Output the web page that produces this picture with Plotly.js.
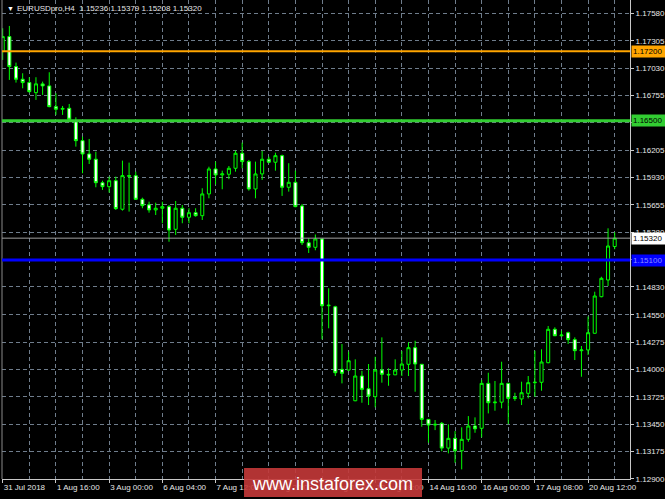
<!DOCTYPE html>
<html>
<head>
<meta charset="utf-8">
<script src="https://cdn.plot.ly/plotly-3.0.1.min.js"></script>
<style>
  html, body { margin: 0; padding: 0; background: #000; }
  #chart { width: 665px; height: 499px; }
</style>
</head>
<body>
<div id="chart"></div>
<script>
// EURUSDpro, H4 bars from 31 Jul 2018 08:00 to 21 Aug 2018 04:00
const symbol = 'EURUSDpro,H4';

const open = [
  1.17197, 1.17348, 1.17046, 1.16919, 1.16885, 1.16784, 1.16872, 1.16852, 1.16643, 1.16617,
  1.16627, 1.16492, 1.16301, 1.16167, 1.16114, 1.15878, 1.15838, 1.15898, 1.15611, 1.15949,
  1.15949, 1.15711, 1.15655, 1.15604, 1.15621, 1.15637, 1.15409, 1.15621, 1.15530, 1.15576,
  1.15546, 1.15765, 1.16016, 1.15956, 1.15963, 1.16023, 1.16174, 1.16090, 1.15815, 1.15966,
  1.16114, 1.16084, 1.16150, 1.15832, 1.15882, 1.15644, 1.15274, 1.15228, 1.15312, 1.14640,
  1.14630, 1.14000, 1.13993, 1.13684, 1.13933, 1.13805, 1.13725, 1.13993, 1.13950, 1.13945,
  1.13993, 1.14051, 1.14218, 1.14051, 1.13497, 1.13440, 1.13457, 1.13208, 1.13306, 1.13181,
  1.13296, 1.13430, 1.13407, 1.13859, 1.13664, 1.13670, 1.13859, 1.13708, 1.13702, 1.13759,
  1.13866, 1.13870, 1.14067, 1.14403, 1.14338, 1.14369, 1.14299, 1.14188, 1.14195, 1.14363,
  1.14731, 1.14899, 1.15236
];

const high = [
  1.17432, 1.17455, 1.17086, 1.16979, 1.16939, 1.16939, 1.16895, 1.16989, 1.16778, 1.16650,
  1.16670, 1.16536, 1.16341, 1.16318, 1.16190, 1.15898, 1.15939, 1.15939, 1.16100, 1.16080,
  1.15989, 1.15727, 1.15687, 1.15677, 1.15687, 1.15654, 1.15694, 1.15654, 1.15621, 1.15621,
  1.15822, 1.16039, 1.16090, 1.15999, 1.16046, 1.16200, 1.16281, 1.16107, 1.16090, 1.16197,
  1.16140, 1.16180, 1.16160, 1.16074, 1.15999, 1.15664, 1.15319, 1.15357, 1.15319, 1.14816,
  1.14640, 1.14255, 1.14177, 1.14101, 1.13986, 1.14054, 1.14127, 1.14322, 1.14010, 1.14101,
  1.14185, 1.14272, 1.14288, 1.14051, 1.13500, 1.13490, 1.13470, 1.13447, 1.13379, 1.13417,
  1.13530, 1.13517, 1.13893, 1.13966, 1.13883, 1.14077, 1.13865, 1.13765, 1.13876, 1.13933,
  1.14188, 1.14202, 1.14436, 1.14423, 1.14389, 1.14379, 1.14322, 1.14235, 1.14532, 1.14781,
  1.14932, 1.15419, 1.15379
];

const low = [
  1.17113, 1.16912, 1.16885, 1.16828, 1.16784, 1.16711, 1.16761, 1.16637, 1.16560, 1.16560,
  1.16509, 1.16241, 1.15973, 1.16066, 1.15832, 1.15805, 1.15778, 1.15604, 1.15597, 1.15587,
  1.15704, 1.15621, 1.15576, 1.15553, 1.15470, 1.15284, 1.15352, 1.15470, 1.15470, 1.15536,
  1.15503, 1.15721, 1.15860, 1.15812, 1.15913, 1.15989, 1.16023, 1.15798, 1.15721, 1.15906,
  1.16074, 1.15999, 1.15745, 1.15788, 1.15631, 1.15251, 1.15171, 1.15198, 1.14302, 1.14413,
  1.13933, 1.13859, 1.13985, 1.13680, 1.13664, 1.13641, 1.13618, 1.13866, 1.13835, 1.13943,
  1.13933, 1.13933, 1.13775, 1.13423, 1.13262, 1.13389, 1.13176, 1.13155, 1.13060, 1.12994,
  1.13272, 1.13362, 1.13316, 1.13557, 1.13584, 1.13608, 1.13450, 1.13684, 1.13641, 1.13708,
  1.13725, 1.13785, 1.14061, 1.14335, 1.14330, 1.14255, 1.14094, 1.13926, 1.14144, 1.14360,
  1.14725, 1.14839, 1.15208
];

const close = [
  1.17348, 1.17046, 1.16919, 1.16885, 1.16794, 1.16872, 1.16852, 1.16643, 1.16617, 1.16625,
  1.16516, 1.16301, 1.16167, 1.16114, 1.15878, 1.15838, 1.15898, 1.15617, 1.15949, 1.15944,
  1.15711, 1.15647, 1.15604, 1.15621, 1.15637, 1.15402, 1.15621, 1.15530, 1.15576, 1.15546,
  1.15765, 1.16016, 1.15956, 1.15966, 1.16023, 1.16174, 1.16090, 1.15815, 1.15966, 1.16114,
  1.16084, 1.16150, 1.15832, 1.15882, 1.15637, 1.15274, 1.15228, 1.15312, 1.14640, 1.14645,
  1.13966, 1.13960, 1.14087, 1.13933, 1.13799, 1.13732, 1.13993, 1.13950, 1.13945, 1.13993,
  1.14054, 1.14218, 1.14054, 1.13497, 1.13440, 1.13447, 1.13208, 1.13306, 1.13181, 1.13296,
  1.13430, 1.13402, 1.13859, 1.13664, 1.13670, 1.13859, 1.13708, 1.13714, 1.13765, 1.13866,
  1.13870, 1.14074, 1.14403, 1.14338, 1.14345, 1.14299, 1.14188, 1.14195, 1.14369, 1.14738,
  1.14916, 1.15241, 1.15320
];

// time scale labels (one every 8 bars) and the bar they sit on
const timeLabelBars = [0, 8, 16, 24, 32, 40, 48, 56, 64, 72, 80, 88];
const timeLabels = ['31 Jul 2018', '1 Aug 16:00', '3 Aug 00:00', '6 Aug 04:00', '7 Aug 12:00',
  '8 Aug 20:00', '10 Aug 04:00', '13 Aug 08:00', '14 Aug 16:00', '16 Aug 00:00',
  '17 Aug 08:00', '20 Aug 12:00'];

// price scale grid levels; an empty label sits under a level box
const priceGrid = [1.17580, 1.17305, 1.17030, 1.16755, 1.16480, 1.16205, 1.15930, 1.15655,
  1.15380, 1.15105, 1.14830, 1.14550, 1.14275, 1.14000, 1.13725, 1.13450, 1.13175, 1.12900];
const priceLabels = ['1.17580', '1.17305', '1.17030', '1.16755', '', '1.16205', '1.15930',
  '1.15655', '1.15380', '', '1.14830', '1.14550', '1.14275', '1.14000', '1.13725',
  '1.13450', '1.13175', '1.12900'];

// horizontal levels
const levelPrices = [1.17200, 1.16500, 1.15100];
const levelColors = ['#ffa500', '#32cd32', '#0000ff'];
const levelWidths = [2, 3, 3];
const levelTextColors = ['#000000', '#000000', '#8c8cff'];

const bars = open.map((_, i) => i);
const last = open.length - 1;
const fmt = v => v.toFixed(5);

const labelFont = { family: 'Liberation Sans, Arial, sans-serif', size: 8, color: '#e6e6e6' };

const candles = {
  type: 'candlestick',
  x: bars,
  open: open, high: high, low: low, close: close,
  increasing: { line: { color: '#00ff00', width: 1 }, fillcolor: '#000000' },
  decreasing: { line: { color: '#00ff00', width: 1 }, fillcolor: '#ffffff' },
  whiskerwidth: 0,
  hoverinfo: 'skip',
  showlegend: false
};

const shapes = [];
const annotations = [];

// left border of the chart window
shapes.push({ type: 'line', xref: 'paper', yref: 'paper', x0: 0, x1: 0, y0: 0, y1: 1,
  line: { color: '#8a8a8a', width: 1 } });

// bid line at the last close
shapes.push({ type: 'line', xref: 'paper', yref: 'y', x0: 0, x1: 1, y0: close[last], y1: close[last],
  line: { color: '#a0a0a0', width: 1 } });

levelPrices.forEach((p, k) => {
  shapes.push({ type: 'line', xref: 'paper', yref: 'y', x0: 0, x1: 1, y0: p, y1: p,
    line: { color: levelColors[k], width: levelWidths[k] } });
  annotations.push({ xref: 'paper', yref: 'y', x: 1, y: p, xanchor: 'left', yanchor: 'middle',
    xshift: 1, text: fmt(p), showarrow: false, align: 'left', width: 32, height: 9, borderpad: 1,
    bgcolor: levelColors[k], font: { family: labelFont.family, size: 8, color: levelTextColors[k] } });
});

// current price box
annotations.push({ xref: 'paper', yref: 'y', x: 1, y: close[last], xanchor: 'left', yanchor: 'middle',
  xshift: 1, text: fmt(close[last]), showarrow: false, align: 'left', width: 32, height: 9, borderpad: 1,
  bgcolor: '#ffffff', font: { family: labelFont.family, size: 8, color: '#000000' } });

// symbol header with the last bar's OHLC
annotations.push({ xref: 'paper', yref: 'paper', x: 0.004, y: 0.983, xanchor: 'left', yanchor: 'middle',
  text: '▼', showarrow: false, font: { family: labelFont.family, size: 7, color: '#ffffff' } });
annotations.push({ xref: 'paper', yref: 'paper', x: 0.020, y: 0.983, xanchor: 'left', yanchor: 'middle',
  text: symbol + '  ' + [open[last], high[last], low[last], close[last]].map(fmt).join(' '),
  showarrow: false, font: { family: labelFont.family, size: 8, color: '#e6e6e6' } });

// site banner
shapes.push({ type: 'rect', xref: 'paper', yref: 'paper', x0: 0.3854, x1: 0.6688, y0: -0.0376, y1: 0.023,
  fillcolor: 'rgba(196,56,56,0.9)', line: { width: 0 }, layer: 'above' });
annotations.push({ xref: 'paper', yref: 'paper', x: 0.527, y: -0.0104, xanchor: 'center', yanchor: 'middle',
  text: 'www.instaforex.com', showarrow: false,
  font: { family: 'Liberation Sans, Arial, sans-serif', size: 18, color: '#ffffff' } });

const gridDash = '4px,3px';
const gridColor = '#6f7d8c';

const layout = {
  width: 665, height: 499,
  margin: { l: 2, r: 35, t: 0, b: 20, pad: 0 },
  paper_bgcolor: '#000000',
  plot_bgcolor: '#000000',
  showlegend: false,
  boxgap: 0.35,
  xaxis: {
    type: 'linear',
    range: [-0.105, 94.3],
    rangeslider: { visible: false },
    tickmode: 'array',
    tickvals: timeLabelBars,
    ticktext: timeLabels,
    tickangle: 0,
    ticklabelposition: 'outside right',
    ticks: 'outside', ticklen: 3, tickcolor: '#c8c8c8', tickwidth: 1,
    tickfont: labelFont,
    showgrid: true, gridcolor: gridColor, griddash: gridDash, gridwidth: 1,
    minor: { tick0: 0, dtick: 4, showgrid: true, gridcolor: gridColor, griddash: gridDash, gridwidth: 1, ticks: '' },
    showline: true, linecolor: '#c8c8c8', linewidth: 1,
    zeroline: false, fixedrange: true
  },
  yaxis: {
    side: 'right',
    range: [1.12897, 1.17716],
    tickmode: 'array',
    tickvals: priceGrid,
    ticktext: priceLabels,
    ticks: 'outside', ticklen: 3, tickcolor: '#c8c8c8', tickwidth: 1,
    tickfont: labelFont,
    showgrid: true, gridcolor: gridColor, griddash: gridDash, gridwidth: 1,
    showline: true, linecolor: '#c8c8c8', linewidth: 1,
    zeroline: false, fixedrange: true
  },
  shapes: shapes,
  annotations: annotations
};

Plotly.newPlot('chart', [candles], layout, { staticPlot: true, displayModeBar: false });
</script>
</body>
</html>
